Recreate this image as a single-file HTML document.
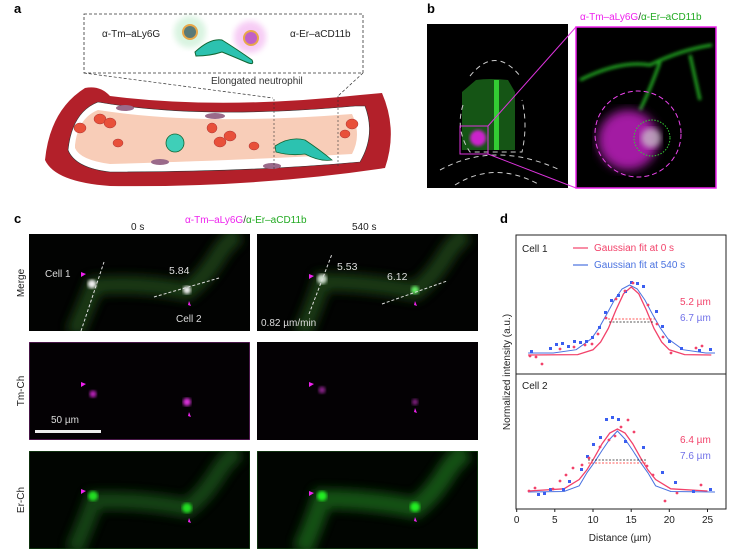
<!DOCTYPE html>
<html><head><meta charset="utf-8"><style>
body{margin:0;background:#fff}
svg{display:block;font-family:"Liberation Sans",sans-serif}
</style></head><body>
<svg width="738" height="554" viewBox="0 0 738 554" xmlns="http://www.w3.org/2000/svg">
<defs>
<filter id="b3"><feGaussianBlur stdDeviation="3"/></filter>
<filter id="b6"><feGaussianBlur stdDeviation="5"/></filter>
<filter id="b2"><feGaussianBlur stdDeviation="1.5"/></filter>
</defs>
<text x="14" y="13" font-size="13" font-weight="bold">a</text>
<text x="427" y="13" font-size="13" font-weight="bold">b</text>
<text x="14" y="223" font-size="13" font-weight="bold">c</text>
<text x="500" y="223" font-size="13" font-weight="bold">d</text>

<!-- panel a -->
<rect x="84" y="14" width="279" height="59" fill="none" stroke="#333" stroke-width="0.8" stroke-dasharray="3,2"/>
<line x1="84" y1="73" x2="273" y2="98" stroke="#333" stroke-width="0.7" stroke-dasharray="3,2"/>
<line x1="363" y1="73" x2="338" y2="96" stroke="#333" stroke-width="0.7" stroke-dasharray="3,2"/>
<circle cx="190" cy="32" r="16" fill="#bfeccc" opacity=".6" filter="url(#b3)"/>
<circle cx="250" cy="37" r="16" fill="#f3b6f0" opacity=".7" filter="url(#b3)"/>
<circle cx="190" cy="32" r="7" fill="#5a7a78" stroke="#e8a84a" stroke-width="2"/>
<circle cx="251" cy="38" r="7" fill="#c060c8" stroke="#e8a84a" stroke-width="2"/>
<path d="M195 52 Q210 38 222 40 Q238 50 252 60 Q255 66 246 62 Q232 56 222 52 Q210 56 196 56 Z" fill="#2cc2b0" stroke="#163" stroke-width="1"/>
<text x="102" y="37" font-size="10" fill="#222">α-Tm–aLy6G</text>
<text x="290" y="37" font-size="10" fill="#222">α-Er–aCD11b</text>
<text x="211" y="84" font-size="10" fill="#333">Elongated neutrophil</text>
<path d="M45 160 Q50 110 85 88 Q100 85 110 96 Q220 110 360 95 L382 93 Q398 130 385 168 Q250 188 110 186 Q55 182 45 160 Z" fill="#b3202a"/>
<path d="M68 150 Q72 112 98 102 Q200 120 355 106 L365 106 Q376 135 360 162 Q250 172 110 172 Q75 168 68 150 Z" fill="#fff" stroke="#333" stroke-width="0.6"/>
<path d="M75 145 Q78 118 98 110 Q200 126 352 114 Q362 135 352 154 Q250 160 110 164 Q80 160 75 148 Z" fill="#f8cdb8"/>
<g fill="#e8503a" stroke="#a33" stroke-width="0.5">
<ellipse cx="80" cy="128" rx="6" ry="5"/><ellipse cx="100" cy="119" rx="6" ry="5"/><ellipse cx="110" cy="123" rx="6" ry="5"/><ellipse cx="118" cy="143" rx="5" ry="4"/><ellipse cx="212" cy="128" rx="5" ry="5"/><ellipse cx="220" cy="142" rx="6" ry="5"/><ellipse cx="230" cy="136" rx="6" ry="5"/><ellipse cx="254" cy="146" rx="5" ry="4"/><ellipse cx="352" cy="124" rx="6" ry="5"/><ellipse cx="345" cy="134" rx="5" ry="4"/>
</g>
<g fill="#9a6a8a"><ellipse cx="125" cy="108" rx="9" ry="3"/><ellipse cx="215" cy="116" rx="10" ry="3"/><ellipse cx="160" cy="162" rx="9" ry="3"/><ellipse cx="272" cy="166" rx="9" ry="3"/></g>
<path d="M275 146 Q290 136 305 140 Q320 150 332 160 Q320 162 305 154 Q290 156 276 152 Z" fill="#2cc2b0" stroke="#163" stroke-width="0.8"/>
<circle cx="175" cy="143" r="9" fill="#3fcfb8" stroke="#163" stroke-width="0.8"/>
<line x1="274" y1="99" x2="274" y2="170" stroke="#333" stroke-width="0.6" stroke-dasharray="2,2"/>
<line x1="338" y1="96" x2="338" y2="168" stroke="#333" stroke-width="0.6" stroke-dasharray="2,2"/>

<!-- panel b -->
<rect x="427" y="24" width="141" height="164" fill="#000"/>
<path d="M476 80 Q490 78 508 80 L515 92 L515 150 L462 150 L462 92 Z" fill="#1a6a1a" opacity=".8"/>
<rect x="494" y="80" width="5" height="70" fill="#3c3"/>
<path d="M470 76 Q495 45 520 76" stroke="#ccc" fill="none" stroke-dasharray="5,4"/>
<path d="M463 105 Q455 130 470 152 L522 152 Q528 125 522 100" stroke="#ccc" fill="none" stroke-dasharray="5,4"/>
<path d="M440 170 Q495 140 560 170" stroke="#ccc" fill="none" stroke-dasharray="5,4"/>
<path d="M455 185 Q495 160 540 185" stroke="#ccc" fill="none" stroke-dasharray="5,4"/>
<circle cx="478" cy="138" r="8" fill="#c2c" filter="url(#b2)"/>
<rect x="460" y="126" width="28" height="28" fill="none" stroke="#d3d" stroke-width="1"/>
<line x1="488" y1="126" x2="576" y2="27" stroke="#d3d"/>
<line x1="488" y1="154" x2="576" y2="188" stroke="#d3d"/>
<rect x="576" y="27" width="140" height="161" fill="#000" stroke="#e2e" stroke-width="1.5"/>
<path d="M580 80 Q620 60 650 65 Q680 50 712 45 M660 62 Q650 90 640 110 M690 55 L700 100" stroke="#2a2" stroke-width="3" fill="none" filter="url(#b2)"/>
<circle cx="628" cy="140" r="30" fill="#c2c" opacity=".8" filter="url(#b6)"/>
<circle cx="651" cy="138" r="10" fill="#ccc" opacity=".7" filter="url(#b3)"/>
<circle cx="638" cy="134" r="43" fill="none" stroke="#e4e" stroke-dasharray="5,3"/>
<circle cx="652" cy="138" r="18" fill="none" stroke="#3c3" stroke-dasharray="1.5,1.5"/>
<text x="580" y="20" font-size="10"><tspan fill="#e2e">α-Tm–aLy6G</tspan><tspan fill="#333">/</tspan><tspan fill="#2a2">α-Er–aCD11b</tspan></text>

<!-- panel c -->
<text x="131" y="230" font-size="10" fill="#222">0 s</text>
<text x="352" y="230" font-size="10" fill="#222">540 s</text>
<text x="185" y="223" font-size="10"><tspan fill="#e2e">α-Tm–aLy6G</tspan><tspan fill="#333">/</tspan><tspan fill="#2a2">α-Er–aCD11b</tspan></text>
<text transform="translate(24,283) rotate(-90)" font-size="10" text-anchor="middle" fill="#222">Merge</text>
<text transform="translate(24,391) rotate(-90)" font-size="10" text-anchor="middle" fill="#222">Tm-Ch</text>
<text transform="translate(24,500) rotate(-90)" font-size="10" text-anchor="middle" fill="#222">Er-Ch</text>

<svg x="29" y="234" width="221" height="97" overflow="hidden"><rect width="221" height="97" fill="#020302"/>
<path d="M45 100 Q58 70 65 52 Q110 48 158 57 Q175 45 190 20 Q200 5 210 0" stroke="#1a3f18" stroke-width="18" fill="none" filter="url(#b6)" opacity=".9"/>
<circle cx="63" cy="50" r="4.5" fill="#eee" filter="url(#b2)"/><circle cx="158" cy="56" r="4" fill="#eee" filter="url(#b2)"/>
<path d="M52 97 L75 28" stroke="#ddd" stroke-dasharray="3,2"/><path d="M125 63 L190 44" stroke="#ddd" stroke-dasharray="3,2"/>
<text x="16" y="43" font-size="10" fill="#ddd">Cell 1</text><text x="140" y="40" font-size="10.5" fill="#ddd">5.84</text><text x="147" y="88" font-size="10" fill="#ddd">Cell 2</text>
<path d="M52 38 l5 2 -5 3z M160 67 l2 5 -3 -1z" fill="#e2e"/></svg>
<svg x="257" y="234" width="221" height="97" overflow="hidden"><rect width="221" height="97" fill="#020302"/>
<path d="M45 100 Q58 70 65 48 Q110 48 158 57 Q175 45 190 20 Q200 5 210 0" stroke="#1a3f18" stroke-width="18" fill="none" filter="url(#b6)" opacity=".9"/>
<circle cx="65" cy="45" r="5" fill="#cdc" filter="url(#b2)"/><circle cx="158" cy="56" r="4" fill="#6e6" filter="url(#b2)"/>
<path d="M52 80 L75 20" stroke="#ddd" stroke-dasharray="3,2"/><path d="M125 70 L190 47" stroke="#ddd" stroke-dasharray="3,2"/>
<text x="80" y="36" font-size="10.5" fill="#ddd">5.53</text><text x="130" y="46" font-size="10.5" fill="#ddd">6.12</text><text x="4" y="92" font-size="10" fill="#ddd">0.82 µm/min</text>
<path d="M52 40 l5 2 -5 3z M158 67 l2 5 -3 -1z" fill="#e2e"/></svg>
<svg x="29" y="342" width="221" height="98" overflow="hidden"><rect width="221" height="98" fill="#040104" stroke="#8a2a8a"/>
<circle cx="64" cy="52" r="3.5" fill="#b2b" filter="url(#b2)"/><circle cx="158" cy="60" r="4" fill="#d3d" filter="url(#b2)"/>
<path d="M52 40 l5 2 -5 3z M160 70 l2 5 -3 -1z" fill="#e2e"/>
<rect x="6" y="88" width="66" height="3" fill="#eee"/><text x="22" y="81" font-size="10" fill="#ddd">50 µm</text></svg>
<svg x="257" y="342" width="221" height="98" overflow="hidden"><rect width="221" height="98" fill="#040104"/>
<circle cx="65" cy="48" r="3.5" fill="#828" filter="url(#b2)"/><circle cx="158" cy="60" r="3" fill="#828" filter="url(#b2)"/>
<path d="M52 40 l5 2 -5 3z M158 66 l2 5 -3 -1z" fill="#e2e"/></svg>
<svg x="29" y="451" width="221" height="98" overflow="hidden"><rect width="221" height="98" fill="#010501" stroke="#1a5a1a"/>
<path d="M45 100 Q58 70 65 50 Q110 48 158 57 Q175 45 190 20 Q200 5 210 0" stroke="#154a12" stroke-width="18" fill="none" filter="url(#b6)" opacity=".9"/>
<circle cx="64" cy="45" r="5" fill="#2d2" filter="url(#b2)"/><circle cx="158" cy="57" r="5" fill="#2d2" filter="url(#b2)"/>
<path d="M52 38 l5 2 -5 3z M160 67 l2 5 -3 -1z" fill="#e2e"/></svg>
<svg x="257" y="451" width="221" height="98" overflow="hidden"><rect width="221" height="98" fill="#010501" stroke="#1a5a1a"/>
<path d="M45 100 Q58 70 65 48 Q110 48 158 57 Q175 45 190 20 Q200 5 210 0" stroke="#185a14" stroke-width="20" fill="none" filter="url(#b6)" opacity=".9"/>
<circle cx="65" cy="45" r="5" fill="#2e2" filter="url(#b2)"/><circle cx="158" cy="56" r="5" fill="#2e2" filter="url(#b2)"/>
<path d="M52 40 l5 2 -5 3z M158 66 l2 5 -3 -1z" fill="#e2e"/></svg>

<!-- panel d -->
<rect x="516" y="235" width="210" height="274" fill="none" stroke="#222" stroke-width="1"/>
<line x1="516" y1="374" x2="726" y2="374" stroke="#222"/>
<text x="522" y="252" font-size="10" fill="#222">Cell 1</text>
<text x="522" y="389" font-size="10" fill="#222">Cell 2</text>
<line x1="573" y1="248" x2="588" y2="248" stroke="#f2426a" stroke-width="1.2"/>
<text x="594" y="251" font-size="10" fill="#f2426a">Gaussian fit at 0 s</text>
<line x1="573" y1="265" x2="588" y2="265" stroke="#4a72e0" stroke-width="1.2"/>
<text x="594" y="268" font-size="10" fill="#4a72e0">Gaussian fit at 540 s</text>
<text x="680" y="305" font-size="10" fill="#f2426a">5.2 µm</text>
<text x="680" y="321" font-size="10" fill="#7070e8">6.7 µm</text>
<text x="680" y="443" font-size="10" fill="#f2426a">6.4 µm</text>
<text x="680" y="459" font-size="10" fill="#7070e8">7.6 µm</text>
<polyline fill="none" stroke="#4a72e0" stroke-width="1" points="528.1,353 553.3,353 576.2,349.7 591.5,338.7 599.1,327.8 606.7,314.2 614.4,300 622,289 629.6,285 637.3,289 644.9,300 652.5,314.2 660.2,327.8 667.8,338.7 683,349.7 705.9,353 715,353"/>
<polyline fill="none" stroke="#f2426a" stroke-width="1.3" points="528.1,355 577.7,354.6 593,349.8 600.6,342.1 608.3,328.5 615.9,310.1 623.5,293.8 631.2,287 638.8,293.8 646.4,310.1 654,328.5 661.7,342.1 669.3,349.8 684.6,354.6 711.3,355"/>
<line x1="608" y1="319" x2="655" y2="319" stroke="#f22" stroke-dasharray="2,1.5" stroke-width="0.8"/>
<line x1="609" y1="322" x2="653" y2="322" stroke="#222" stroke-dasharray="2,1.5" stroke-width="0.8"/>
<polyline fill="none" stroke="#4a72e0" stroke-width="1" points="528.1,492 564,491.5 579.2,485.8 586.9,472.8 594.5,462.2 602.1,450.4 609.8,439.1 617.4,431 625,439.1 632.7,450.4 640.3,462.2 647.9,472.8 655.6,485.8 670.8,491.5 715,492"/>
<polyline fill="none" stroke="#f2426a" stroke-width="1.3" points="528.1,491 564,488.8 579.2,479.5 586.9,469.9 594.5,457.3 602.1,443.7 609.8,433 617.4,429 625,433 632.7,443.7 640.3,457.3 647.9,469.9 655.6,479.5 670.8,488.8 707.5,491"/>
<line x1="588" y1="460" x2="646" y2="460" stroke="#222" stroke-dasharray="2,1.5" stroke-width="0.8"/>
<line x1="588" y1="463" x2="646" y2="463" stroke="#f22" stroke-dasharray="2,1.5" stroke-width="0.8"/>
<g fill="#3a5ef0">
<rect x="530" y="350" width="3" height="3"/><rect x="549" y="347" width="3" height="3"/><rect x="555" y="343" width="3" height="3"/><rect x="561" y="342" width="3" height="3"/><rect x="567" y="345" width="3" height="3"/><rect x="573" y="340" width="3" height="3"/><rect x="579" y="341" width="3" height="3"/><rect x="585" y="340" width="3" height="3"/><rect x="591" y="336" width="3" height="3"/><rect x="598" y="326" width="3" height="3"/><rect x="604" y="311" width="3" height="3"/><rect x="610" y="299" width="3" height="3"/><rect x="617" y="294" width="3" height="3"/><rect x="624" y="290" width="3" height="3"/><rect x="630" y="281" width="3" height="3"/><rect x="636" y="282" width="3" height="3"/><rect x="642" y="285" width="3" height="3"/><rect x="655" y="310" width="3" height="3"/><rect x="661" y="325" width="3" height="3"/><rect x="668" y="340" width="3" height="3"/><rect x="680" y="347" width="3" height="3"/><rect x="698" y="349" width="3" height="3"/><rect x="709" y="348" width="3" height="3"/>
<rect x="537" y="493" width="3" height="3"/><rect x="543" y="492" width="3" height="3"/><rect x="549" y="488" width="3" height="3"/><rect x="562" y="488" width="3" height="3"/><rect x="568" y="480" width="3" height="3"/><rect x="580" y="468" width="3" height="3"/><rect x="586" y="455" width="3" height="3"/><rect x="592" y="443" width="3" height="3"/><rect x="599" y="436" width="3" height="3"/><rect x="605" y="418" width="3" height="3"/><rect x="611" y="416" width="3" height="3"/><rect x="617" y="418" width="3" height="3"/><rect x="624" y="440" width="3" height="3"/><rect x="642" y="446" width="3" height="3"/><rect x="661" y="471" width="3" height="3"/><rect x="674" y="481" width="3" height="3"/><rect x="692" y="490" width="3" height="3"/><rect x="709" y="488" width="3" height="3"/>
</g>
<g fill="#f2426a">
<circle cx="530" cy="356" r="1.4"/><circle cx="536" cy="357" r="1.4"/><circle cx="542" cy="364" r="1.4"/><circle cx="560" cy="349" r="1.4"/><circle cx="574" cy="347" r="1.4"/><circle cx="585" cy="345" r="1.4"/><circle cx="592" cy="344" r="1.4"/><circle cx="598" cy="334" r="1.4"/><circle cx="606" cy="318" r="1.4"/><circle cx="616" cy="299" r="1.4"/><circle cx="625" cy="291" r="1.4"/><circle cx="633" cy="283" r="1.4"/><circle cx="648" cy="305" r="1.4"/><circle cx="657" cy="324" r="1.4"/><circle cx="663" cy="337" r="1.4"/><circle cx="671" cy="353" r="1.4"/><circle cx="696" cy="348" r="1.4"/><circle cx="702" cy="346" r="1.4"/>
<circle cx="529" cy="491" r="1.4"/><circle cx="535" cy="488" r="1.4"/><circle cx="553" cy="489" r="1.4"/><circle cx="560" cy="481" r="1.4"/><circle cx="566" cy="475" r="1.4"/><circle cx="573" cy="468" r="1.4"/><circle cx="582" cy="465" r="1.4"/><circle cx="589" cy="458" r="1.4"/><circle cx="600" cy="447" r="1.4"/><circle cx="609" cy="440" r="1.4"/><circle cx="615" cy="436" r="1.4"/><circle cx="621" cy="427" r="1.4"/><circle cx="628" cy="420" r="1.4"/><circle cx="634" cy="432" r="1.4"/><circle cx="647" cy="466" r="1.4"/><circle cx="653" cy="475" r="1.4"/><circle cx="665" cy="501" r="1.4"/><circle cx="677" cy="493" r="1.4"/><circle cx="701" cy="485" r="1.4"/>
</g>
<g font-size="10" fill="#222" text-anchor="middle">
<line x1="516.7" y1="509" x2="516.7" y2="512" stroke="#222"/><text x="516.7" y="523">0</text>
<line x1="554.8" y1="509" x2="554.8" y2="512" stroke="#222"/><text x="554.8" y="523">5</text>
<line x1="593" y1="509" x2="593" y2="512" stroke="#222"/><text x="593" y="523">10</text>
<line x1="631.2" y1="509" x2="631.2" y2="512" stroke="#222"/><text x="631.2" y="523">15</text>
<line x1="669.3" y1="509" x2="669.3" y2="512" stroke="#222"/><text x="669.3" y="523">20</text>
<line x1="707.5" y1="509" x2="707.5" y2="512" stroke="#222"/><text x="707.5" y="523">25</text>
<text x="620" y="541">Distance (µm)</text>
<text transform="translate(510,372) rotate(-90)">Normalized intensity (a.u.)</text>
</g>
</svg>
</body></html>
